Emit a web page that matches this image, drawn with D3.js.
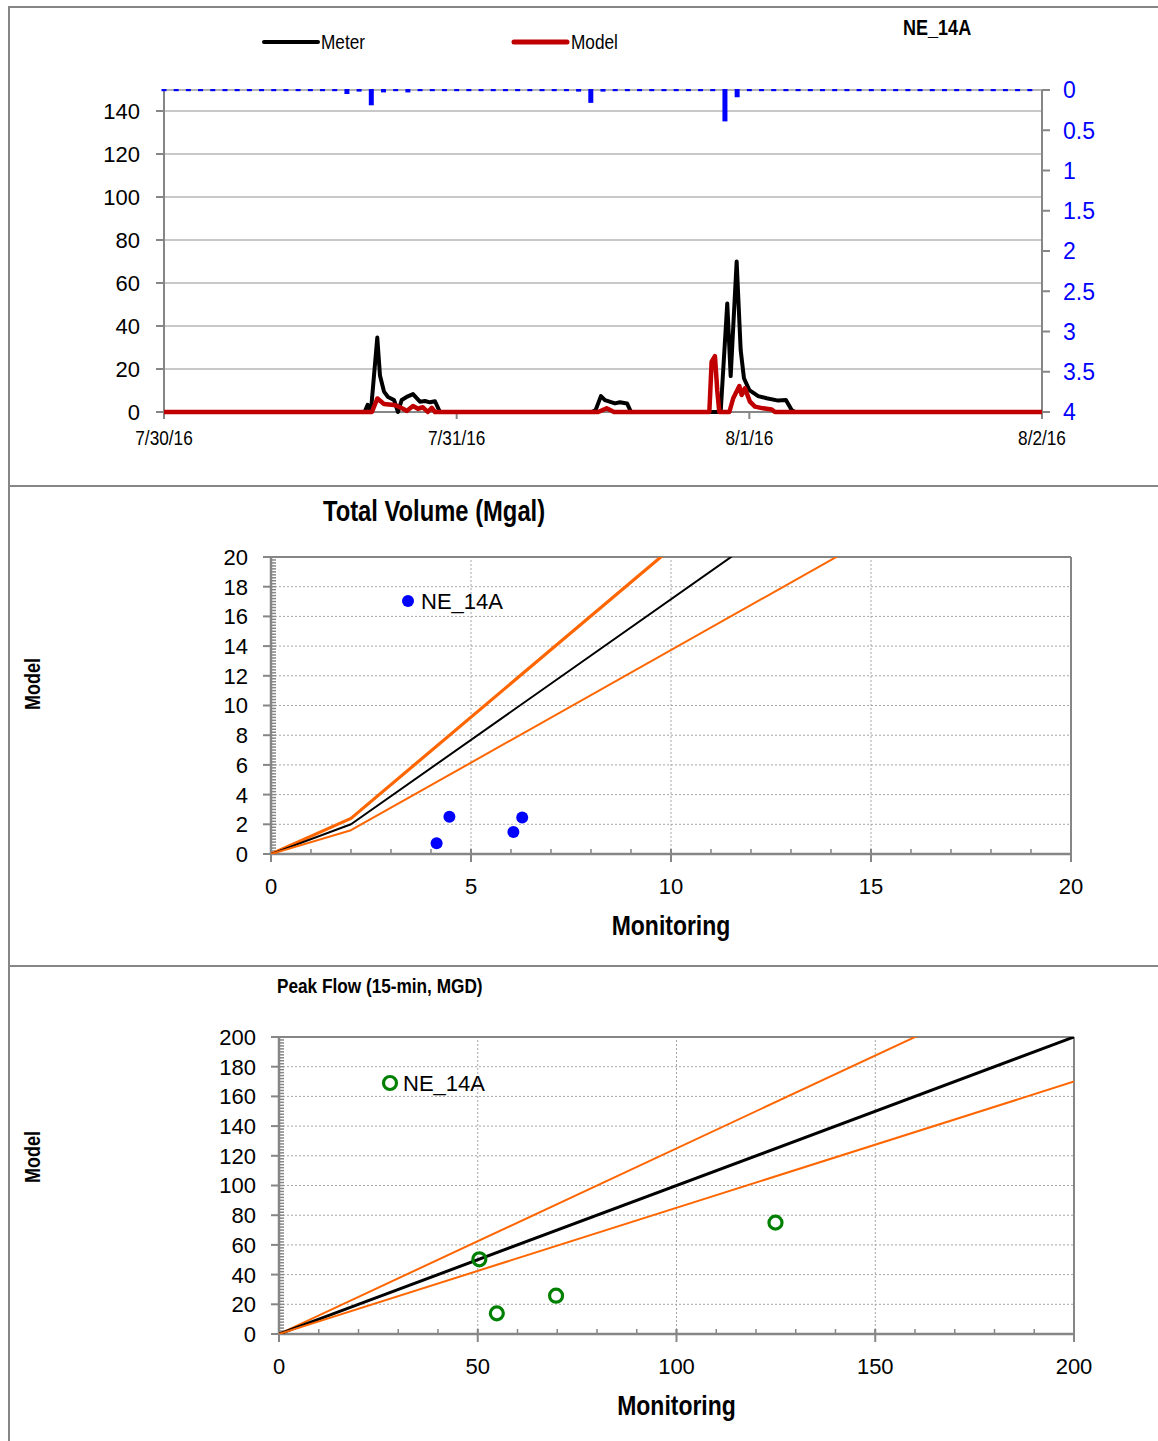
<!DOCTYPE html>
<html><head><meta charset="utf-8">
<script src="https://cdn.jsdelivr.net/npm/d3@7"></script>
<style>
body{margin:0;background:#fff;}
svg text{font-family:"Liberation Sans",Arial,sans-serif;fill:#000;}
</style></head><body><svg id="c" width="1158" height="1441"></svg>
<script>
// ---------- Top chart data (hours since 7/30/16 00:00) ----------
const dayLabels = ["7/30/16", "7/31/16", "8/1/16", "8/2/16"];
const dayHours = [0, 24, 48, 72];
const flowTicks = [0, 20, 40, 60, 80, 100, 120, 140];
const rainTicks = [0, 0.5, 1, 1.5, 2, 2.5, 3, 3.5, 4];
const meterHours = [0, 16.45, 16.7, 16.97, 17.49, 17.71, 18.04, 18.37, 18.86, 19.19, 19.49, 19.9, 20.42, 20.99, 21.4, 21.81, 22.22, 22.63,
  35.1, 35.4, 35.83, 36.16, 36.98, 37.39, 37.97, 38.3,
  45.65, 46.19, 46.47, 46.96, 47.29, 47.56, 48.0, 48.73, 49.42, 50.37, 51.0, 51.47, 51.74, 72];
const meterFlow = [0, 0, 3.3, 0.5, 34.6, 17, 9.5, 7, 5.6, 0, 5.6, 7, 8.3, 4.8, 5.1, 4.5, 5, 0,
  0, 1, 7.4, 5.5, 4, 4.5, 4, 0,
  0, 50.5, 16.7, 70, 28.8, 15.7, 10.2, 7.4, 6.4, 5.3, 5.6, 0.9, 0, 0];
const modelHours = [0, 17.05, 17.5, 18.04, 18.86, 19.19, 19.6, 19.9, 20.42, 20.82, 21.23, 21.63, 21.96, 22.22,
  35.6, 36.3, 36.9,
  44.72, 44.91, 45.18, 45.37, 45.54, 46.36, 46.68, 47.18, 47.37, 47.64, 48.05, 48.46, 49.14, 49.83, 50.1, 72];
const modelFlow = [0, 0, 6.3, 3.7, 3.3, 2.6, 1.5, 0.5, 2.8, 1.5, 2.2, 0, 1.9, 0,
  0, 1.7, 0,
  0, 23.4, 26, 10, 0, 0, 6.4, 12.1, 7.9, 11, 4.8, 2.5, 1.7, 1.2, 0, 0];
const rainHourly = [
  0, 0, 0, 0, 0, 0, 0, 0, 0, 0, 0, 0, 0, 0, 0, 0.05, 0.02, 0.19, 0.03, 0, 0.03, 0, 0, 0,
  0, 0, 0, 0, 0, 0, 0, 0, 0, 0, 0.02, 0.16, 0.02, 0, 0, 0, 0, 0, 0, 0, 0, 0, 0.39, 0.09,
  0, 0, 0, 0, 0, 0, 0, 0, 0, 0, 0, 0, 0, 0, 0, 0, 0, 0, 0, 0, 0, 0, 0, 0];

// ---------- Total volume data ----------
const volTicksY = [0, 2, 4, 6, 8, 10, 12, 14, 16, 18, 20];
const volTicksX = [0, 5, 10, 15, 20];
const volMonitoring = [4.14, 4.46, 6.06, 6.28];
const volModel = [0.72, 2.51, 1.48, 2.45];
const volRefX = [0, 2, 20];
const volRefY = [0, 2, 36.1];
const volUpperY = [0, 2.4, 43.3];
const volLowerY = [0, 1.6, 28.9];

// ---------- Peak flow data ----------
const peakTicksY = [0, 20, 40, 60, 80, 100, 120, 140, 160, 180, 200];
const peakTicksX = [0, 50, 100, 150, 200];
const peakMonitoring = [50.4, 54.8, 69.7, 124.9];
const peakModel = [50.3, 13.9, 25.8, 75.0];
const peakRefX = [0, 200];
const peakRefY = [0, 200];
const peakUpperY = [0, 250];
const peakLowerY = [0, 170];

const svg = d3.select("#c");
const AX = "#868686";
const NARROW = 0.82;

// condensed text helper (Arial Narrow look)
function ntext(parent, x, y, str, size, anchor, bold, rot, color) {
  const t = parent.append("text")
    .attr("transform", `translate(${x},${y})${rot ? ` rotate(${rot})` : ""} scale(${NARROW},1)`)
    .attr("text-anchor", anchor || "start")
    .style("font-size", size + "px")
    .text(str);
  if (bold) t.style("font-weight", "bold");
  if (color) t.style("fill", color);
  return t;
}

// frame
svg.append("line").attr("x1", 9).attr("x2", 9).attr("y1", 6).attr("y2", 1441).attr("stroke", AX).attr("stroke-width", 2);
[7, 486, 966].forEach(y => svg.append("line").attr("x1", 8).attr("x2", 1158).attr("y1", y).attr("y2", y).attr("stroke", AX).attr("stroke-width", 2));

// ================= TOP CHART =================
const xT = d3.scaleLinear().domain([0, 72]).range([164, 1042]);
const yT = d3.scaleLinear().domain([0, 150]).range([412, 89.5]);
const yR = d3.scaleLinear().domain([0, 4]).range([90, 412]);
const gT = svg.append("g");

gT.selectAll(".grid").data(flowTicks.slice(1)).join("line")
  .attr("x1", 164).attr("x2", 1042).attr("y1", d => yT(d)).attr("y2", d => yT(d))
  .attr("stroke", "#c8c8c8").attr("stroke-width", 2);
gT.append("line").attr("x1", 164).attr("x2", 1042).attr("y1", 90).attr("y2", 90).attr("stroke", "#9a9a9a").attr("stroke-width", 1.5);
gT.append("line").attr("x1", 164).attr("x2", 164).attr("y1", 90).attr("y2", 412).attr("stroke", AX).attr("stroke-width", 2);
gT.append("line").attr("x1", 1042).attr("x2", 1042).attr("y1", 90).attr("y2", 412).attr("stroke", AX).attr("stroke-width", 2);
gT.append("line").attr("x1", 164).attr("x2", 1042).attr("y1", 412).attr("y2", 412).attr("stroke", AX).attr("stroke-width", 2);
gT.selectAll(".lt").data(flowTicks).join("line")
  .attr("x1", 156).attr("x2", 164).attr("y1", d => yT(d)).attr("y2", d => yT(d)).attr("stroke", AX).attr("stroke-width", 2);
gT.selectAll(".ll").data(flowTicks).join("text")
  .attr("x", 140).attr("y", d => yT(d)).attr("dy", "0.36em").attr("text-anchor", "end")
  .style("font-size", "22px").text(d => d);
gT.selectAll(".rt").data(rainTicks).join("line")
  .attr("x1", 1042).attr("x2", 1050).attr("y1", d => yR(d)).attr("y2", d => yR(d)).attr("stroke", AX).attr("stroke-width", 2);
gT.selectAll(".rl").data(rainTicks).join("text")
  .attr("x", 1063).attr("y", d => yR(d)).attr("dy", "0.36em").attr("text-anchor", "start")
  .style("font-size", "23px").style("fill", "#0000ff").text(d => d);
gT.selectAll(".xt").data(dayHours).join("line")
  .attr("x1", d => xT(d)).attr("x2", d => xT(d)).attr("y1", 412).attr("y2", 419).attr("stroke", AX).attr("stroke-width", 2);
dayHours.forEach((h, i) => ntext(gT, xT(h), 445, dayLabels[i], 21, "middle"));

// rain bars (hanging from top)
gT.selectAll(".rain").data(rainHourly).join("rect")
  .attr("x", (d, i) => xT(i) - 2.5).attr("width", 5)
  .attr("y", 89).attr("height", d => Math.max(2.2, yR(d) - 89))
  .attr("fill", "#0000ff");

// flow lines
const lineT = d3.line().x(d => xT(d[0])).y(d => yT(d[1]));
gT.append("path").datum(meterHours.map((h, i) => [h, meterFlow[i]]))
  .attr("d", lineT).attr("fill", "none").attr("stroke", "#000").attr("stroke-width", 4).attr("stroke-linejoin", "round");
gT.append("path").datum(modelHours.map((h, i) => [h, modelFlow[i]]))
  .attr("d", lineT).attr("fill", "none").attr("stroke", "#c00000").attr("stroke-width", 4.5).attr("stroke-linejoin", "round");

// legend
gT.append("line").attr("x1", 264).attr("x2", 318).attr("y1", 42).attr("y2", 42).attr("stroke", "#000").attr("stroke-width", 4).attr("stroke-linecap", "round");
ntext(gT, 321, 49, "Meter", 21, "start");
gT.append("line").attr("x1", 514).attr("x2", 567).attr("y1", 42).attr("y2", 42).attr("stroke", "#c00000").attr("stroke-width", 5).attr("stroke-linecap", "round");
ntext(gT, 571, 49, "Model", 21, "start");
ntext(gT, 903, 35, "NE_14A", 22, "start", true);

// ================= SCATTER HELPER =================
function scatter(cfg) {
  const g = svg.append("g");
  const x = d3.scaleLinear().domain(cfg.xDom).range(cfg.xRange);
  const y = d3.scaleLinear().domain(cfg.yDom).range(cfg.yRange);
  const [x0, x1] = cfg.xRange, [y0, y1] = cfg.yRange;
  const clipId = cfg.id + "clip";
  svg.append("clipPath").attr("id", clipId).append("rect")
    .attr("x", x0).attr("y", y1).attr("width", x1 - x0).attr("height", y0 - y1);
  g.selectAll(".gy").data(cfg.yTicks.slice(1, -1)).join("line")
    .attr("x1", x0).attr("x2", x1).attr("y1", d => y(d)).attr("y2", d => y(d))
    .attr("stroke", "#a6a6a6").attr("stroke-width", 1).attr("stroke-dasharray", "2,2");
  g.selectAll(".gx").data(cfg.xTicks.slice(1, -1)).join("line")
    .attr("x1", d => x(d)).attr("x2", d => x(d)).attr("y1", y0).attr("y2", y1)
    .attr("stroke", "#a6a6a6").attr("stroke-width", 1).attr("stroke-dasharray", "2,2");
  g.append("line").attr("x1", x0).attr("x2", x1).attr("y1", y1).attr("y2", y1).attr("stroke", AX).attr("stroke-width", 2);
  g.append("line").attr("x1", x1).attr("x2", x1).attr("y1", y1).attr("y2", y0).attr("stroke", AX).attr("stroke-width", 2);
  g.append("line").attr("x1", x0).attr("x2", x0).attr("y1", y1).attr("y2", y0).attr("stroke", AX).attr("stroke-width", 2.5);
  g.append("line").attr("x1", x0).attr("x2", x1).attr("y1", y0).attr("y2", y0).attr("stroke", AX).attr("stroke-width", 2.5);
  g.selectAll(".ym").data(d3.range(cfg.yDom[0], cfg.yDom[1] + 1e-9, cfg.yMinor)).join("line")
    .attr("x1", x0).attr("x2", x0 + 5).attr("y1", d => y(d)).attr("y2", d => y(d)).attr("stroke", AX).attr("stroke-width", 1.5);
  g.selectAll(".yM").data(cfg.yTicks).join("line")
    .attr("x1", x0 - 8).attr("x2", x0).attr("y1", d => y(d)).attr("y2", d => y(d)).attr("stroke", AX).attr("stroke-width", 2);
  g.selectAll(".yl").data(cfg.yTicks).join("text")
    .attr("x", x0 - 23).attr("y", d => y(d)).attr("dy", "0.36em").attr("text-anchor", "end")
    .style("font-size", "22px").text(d => d);
  g.selectAll(".xm").data(d3.range(cfg.xDom[0], cfg.xDom[1] + 1e-9, cfg.xMinor)).join("line")
    .attr("x1", d => x(d)).attr("x2", d => x(d)).attr("y1", y0 - 5).attr("y2", y0).attr("stroke", AX).attr("stroke-width", 1.5);
  g.selectAll(".xM").data(cfg.xTicks).join("line")
    .attr("x1", d => x(d)).attr("x2", d => x(d)).attr("y1", y0 - 5).attr("y2", y0 + 8).attr("stroke", AX).attr("stroke-width", 2);
  g.selectAll(".xl").data(cfg.xTicks).join("text")
    .attr("x", d => x(d)).attr("y", y0 + 40).attr("text-anchor", "middle")
    .style("font-size", "22px").text(d => d);
  const ln = d3.line().x(d => x(d[0])).y(d => y(d[1]));
  const gl = g.append("g").attr("clip-path", `url(#${clipId})`);
  cfg.refs.forEach(r => {
    gl.append("path").datum(r.xs.map((v, i) => [v, r.ys[i]])).attr("d", ln)
      .attr("fill", "none").attr("stroke", r.color).attr("stroke-width", r.w).attr("stroke-linejoin", "round");
  });
  g.selectAll(".pt").data(cfg.px.map((v, i) => [v, cfg.py[i]])).join("circle")
    .attr("cx", d => x(d[0])).attr("cy", d => y(d[1])).attr("r", cfg.r)
    .attr("fill", cfg.fill).attr("stroke", cfg.stroke).attr("stroke-width", cfg.sw);
  g.append("circle").attr("cx", cfg.leg[0]).attr("cy", cfg.leg[1]).attr("r", cfg.r)
    .attr("fill", cfg.fill).attr("stroke", cfg.stroke).attr("stroke-width", cfg.sw);
  g.append("text").attr("x", cfg.leg[0] + 13).attr("y", cfg.leg[1]).attr("dy", "0.36em")
    .style("font-size", "22px").text("NE_14A");
  ntext(g, (x0 + x1) / 2, cfg.xTitleY, "Monitoring", 28, "middle", true);
  ntext(g, 40, cfg.yTitleY, "Model", 22, "middle", true, -90);
  return g;
}

const gV = scatter({
  id: "vol", xDom: [0, 20], yDom: [0, 20], xRange: [271, 1071], yRange: [854, 557],
  xTicks: volTicksX, yTicks: volTicksY, xMinor: 1, yMinor: 0.2,
  refs: [
    { xs: volRefX, ys: volUpperY, color: "#ff6600", w: 3.2 },
    { xs: volRefX, ys: volRefY, color: "#000", w: 2 },
    { xs: volRefX, ys: volLowerY, color: "#ff6600", w: 2 }
  ],
  px: volMonitoring, py: volModel, r: 6, fill: "#0000ff", stroke: "none", sw: 0,
  leg: [408, 601], xTitleY: 935, yTitleY: 684
});
ntext(gV, 434, 521, "Total Volume (Mgal)", 29, "middle", true);

const gP = scatter({
  id: "peak", xDom: [0, 200], yDom: [0, 200], xRange: [279, 1074], yRange: [1334, 1037],
  xTicks: peakTicksX, yTicks: peakTicksY, xMinor: 10, yMinor: 2,
  refs: [
    { xs: peakRefX, ys: peakUpperY, color: "#ff6600", w: 2 },
    { xs: peakRefX, ys: peakRefY, color: "#000", w: 3 },
    { xs: peakRefX, ys: peakLowerY, color: "#ff6600", w: 2 }
  ],
  px: peakMonitoring, py: peakModel, r: 6.5, fill: "none", stroke: "#008000", sw: 3.2,
  leg: [390, 1083], xTitleY: 1415, yTitleY: 1157
});
ntext(gP, 277, 993, "Peak Flow (15-min, MGD)", 21, "start", true);
</script></body></html>
